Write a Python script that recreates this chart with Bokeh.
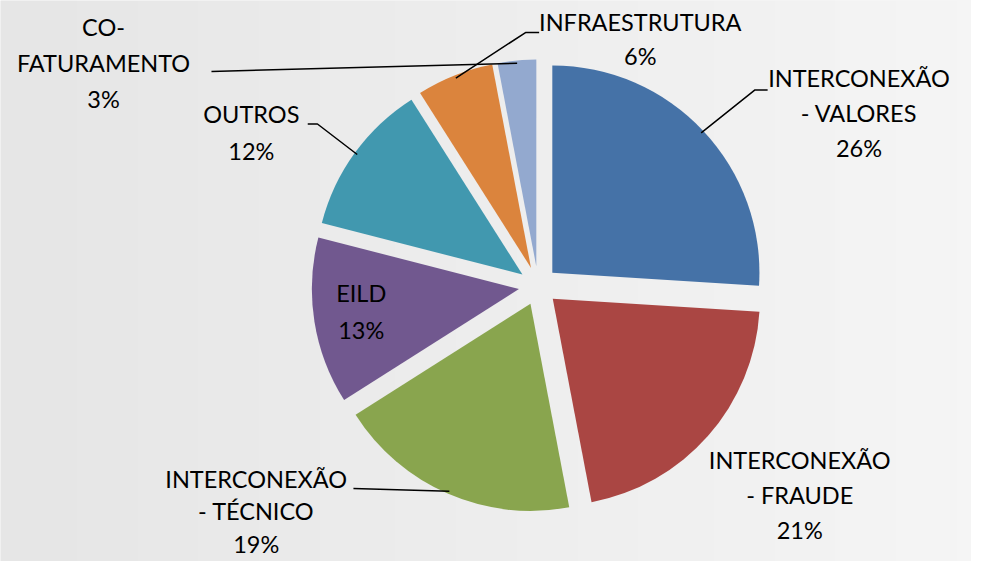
import numpy as np
from bokeh.plotting import figure
from bokeh.models import Range1d
from bokeh.core.properties import value
from bokeh.embed import file_html
from bokeh.resources import INLINE

# ---- data ----
categories = ["INTERCONEXÃO - VALORES", "INTERCONEXÃO - FRAUDE", "INTERCONEXÃO - TÉCNICO",
              "EILD", "OUTROS", "INFRAESTRUTURA", "CO-FATURAMENTO"]
label_lines = [["INTERCONEXÃO", "- VALORES"], ["INTERCONEXÃO", "- FRAUDE"],
               ["INTERCONEXÃO", "- TÉCNICO"], ["EILD"], ["OUTROS"],
               ["INFRAESTRUTURA"], ["CO-", "FATURAMENTO"]]
percent = [26, 21, 19, 13, 12, 6, 3]
colors = ["#4572A7", "#AA4643", "#89A54E", "#71588F", "#4198AF", "#DB843D", "#93A9CF"]

# ---- layout (reference pixel space, y measured from top) ----
W, H = 987, 577
PW, PH = 971, 561
S = PH / H                     # uniform scale so the whole reference fits
CX, CY = 553, 293.6
R, EXPLODE = 213, 20
FONT = "Lato"
FSIZE = "23.5px"
label_pos = [(883, 80), (822, 473), (263, 492), (371, 301), (258, 117), (658, 22), (106, 27)]
label_sp = [36, 36, 33.5, 38, 38, 35, 37]
leader = [[(776, 92), (789, 92)], None, [(363, 502)], None,
          [(326, 127), (316, 127)], [(540, 33), (554, 33)], [(217, 73)]]


def fy(Y):
    return H - Y


p = figure(width=PW, height=PH, output_backend="svg", toolbar_location=None,
           x_range=Range1d(0, PW / S), y_range=Range1d(0, H),
           min_border=0, min_border_left=0, min_border_right=0,
           min_border_top=0, min_border_bottom=0)
p.axis.visible = False
p.grid.visible = False
p.outline_line_color = None
p.background_fill_color = "#EDEDED"
p.border_fill_color = "#EDEDED"

# subtle background gradient (left darker, right lighter)
nx = 64
g = np.linspace(0, 1, nx)
lum = (230 + 15 * g).astype(np.uint8)
img = np.zeros((1, nx), dtype=np.uint32)
view = img.view(dtype=np.uint8).reshape((1, nx, 4))
view[0, :, 0] = lum
view[0, :, 1] = lum
view[0, :, 2] = lum
view[0, :, 3] = 255
p.image_rgba(image=[img], x=0, y=0, dw=PW / S, dh=H)

total = float(sum(percent))
cum = np.concatenate([[0], np.cumsum(percent)]) / total * 2 * np.pi
for i, cat in enumerate(categories):
    t1, t2 = cum[i], cum[i + 1]
    mid = 0.5 * (t1 + t2)
    ox = CX + EXPLODE * np.sin(mid)
    oy = fy(CY) + EXPLODE * np.cos(mid)
    p.wedge(x=ox, y=oy, radius=R, start_angle=np.pi / 2 - t2, end_angle=np.pi / 2 - t1,
            fill_color=colors[i], line_color=None)
    if leader[i] is not None:
        sx = ox + (R - 3) * np.sin(mid)
        sy = oy + (R - 3) * np.cos(mid)
        xs = [sx] + [pt[0] for pt in leader[i]]
        ys = [sy] + [fy(pt[1]) for pt in leader[i]]
        p.line(xs, ys, line_color="#000000", line_width=1.5)
    lx, ly = label_pos[i]
    lines = label_lines[i] + [f"{percent[i]}%"]
    for k, t in enumerate(lines):
        p.text(x=[lx], y=[fy(ly + k * label_sp[i])], text=[t], text_font=value(FONT),
               text_font_size=FSIZE, text_align="center", text_baseline="middle",
               text_color="#000000")

open("out.html", "w").write(file_html(p, INLINE))
